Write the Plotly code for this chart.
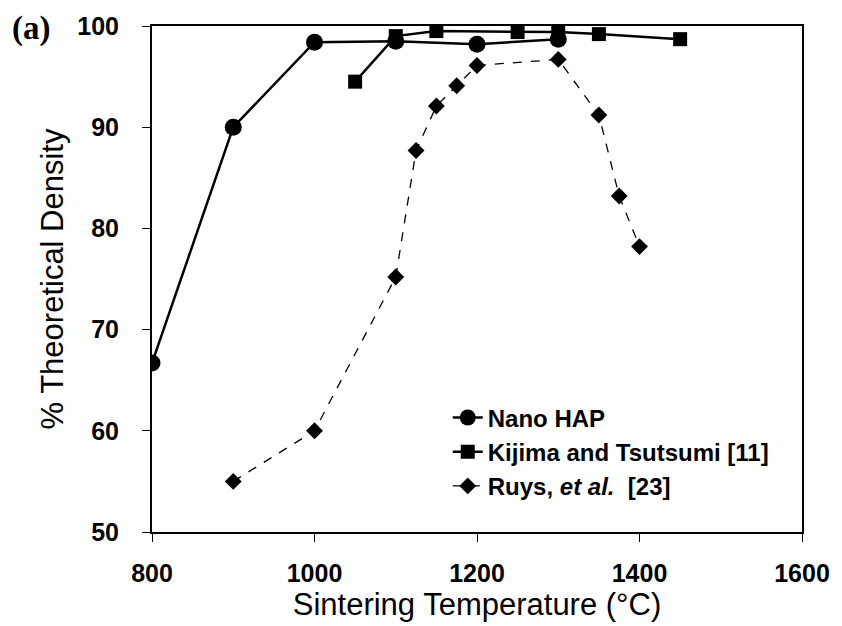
import plotly.graph_objects as go

nano_x = [800, 900, 1000, 1100, 1200, 1300]
nano_y = [66.7, 90.0, 98.4, 98.5, 98.2, 98.7]

kij_x = [1050, 1100, 1150, 1250, 1300, 1350, 1450]
kij_y = [94.5, 99.0, 99.5, 99.4, 99.4, 99.2, 98.7]

ruys_x = [900, 1000, 1100, 1125, 1150, 1175, 1200, 1300, 1350, 1375, 1400]
ruys_y = [55.0, 60.0, 75.2, 87.7, 92.1, 94.1, 96.1, 96.7, 91.2, 83.2, 78.2]

x_ticks = [800, 1000, 1200, 1400, 1600]
y_ticks = [50, 60, 70, 80, 90, 100]

FONT = "Liberation Sans, Arial"

fig = go.Figure()
fig.add_trace(go.Scatter(x=nano_x, y=nano_y, mode="lines+markers", name="Nano HAP",
                         line=dict(color="black", width=2.5),
                         marker=dict(symbol="circle", size=17, color="black")))
fig.add_trace(go.Scatter(x=kij_x, y=kij_y, mode="lines+markers", name="Kijima and Tsutsumi [11]",
                         line=dict(color="black", width=2.5),
                         marker=dict(symbol="square", size=14, color="black")))
fig.add_trace(go.Scatter(x=ruys_x, y=ruys_y, mode="lines+markers",
                         name="Ruys, <i>et al.</i>  [23]",
                         line=dict(color="black", width=1.3, dash="dash"),
                         marker=dict(symbol="diamond", size=13, color="black")))

fig.update_layout(
    width=842, height=626,
    margin=dict(l=152, r=36, t=24, b=94),
    paper_bgcolor="white", plot_bgcolor="white",
    font=dict(family=FONT, color="black"),
    showlegend=True,
    legend=dict(x=0.455, y=0.27, xanchor="left", yanchor="top",
                bgcolor="rgba(0,0,0,0)", font=dict(size=24, color="black", weight="bold"),
                tracegroupgap=0, itemwidth=30),
    xaxis=dict(range=[800, 1600], tickvals=x_ticks, ticks="outside", ticklen=8,
               tickwidth=1, tickcolor="black", ticklabelstandoff=10,
               showline=True, linecolor="black", linewidth=2, mirror=True,
               showgrid=False, zeroline=False,
               tickfont=dict(size=25, family=FONT, weight="bold"),
               title=dict(text="Sintering Temperature (°C)", font=dict(size=31), standoff=4)),
    yaxis=dict(range=[50, 100], tickvals=y_ticks, ticks="outside", ticklen=8,
               tickwidth=1, tickcolor="black", ticklabelstandoff=18,
               showline=True, linecolor="black", linewidth=2, mirror=True,
               showgrid=False, zeroline=False,
               tickfont=dict(size=25, family=FONT, weight="bold"),
               title=dict(text="% Theoretical Density", font=dict(size=31), standoff=4)),
)

fig.add_annotation(text="<b>(a)</b>", xref="paper", yref="paper", x=-0.218, y=0.996,
                   xanchor="left", yanchor="middle", showarrow=False,
                   font=dict(size=33, family="Liberation Serif, Times New Roman", color="black"))

fig.write_html("out.html")
